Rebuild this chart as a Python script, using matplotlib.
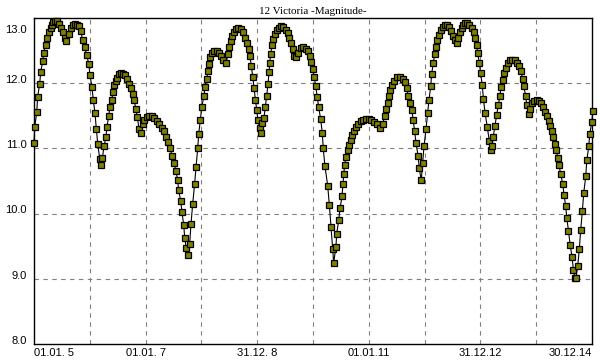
"""
12 Victoria magnitude curve, 2005-2014.
"""

import matplotlib
matplotlib.use("Agg")
import matplotlib.pyplot as plt
import matplotlib.transforms as mtransforms
import numpy as np

# days since 01.01.2005 and magnitude
days = [0, 5, 18, 24, 37, 44, 57, 63, 77, 83, 96, 109, 116, 126, 139, 150, 162, 175, 188, 203,
        211, 227, 240, 253, 266, 279, 292, 305, 319, 332, 345, 358, 366, 379, 388, 399, 408, 417, 430, 438,
        447, 458, 471, 477, 489, 497, 508, 517, 525, 534, 545, 556, 567, 580, 593, 606, 621, 635, 646, 656,
        665, 676, 687, 698, 711, 721, 737, 752, 770, 785, 803, 820, 835, 848, 861, 875, 890, 903, 916, 929,
        940, 946, 960, 968, 979, 986, 996, 1009, 1018, 1027, 1038, 1051, 1060, 1071, 1077, 1088, 1097, 1112, 1118, 1130,
        1138, 1143, 1151, 1162, 1177, 1195, 1212, 1225, 1238, 1256, 1269, 1277, 1287, 1297, 1308, 1321, 1336, 1352, 1365, 1378,
        1391, 1404, 1413, 1421, 1431, 1439, 1448, 1457, 1465, 1476, 1483, 1493, 1504, 1513, 1522, 1531, 1537, 1542, 1548, 1557,
        1565, 1576, 1588, 1601, 1616, 1631, 1646, 1659, 1670, 1681, 1692, 1703, 1714, 1729, 1744, 1761, 1779, 1794, 1805, 1814,
        1823, 1833, 1843, 1853, 1862, 1875, 1886, 1892, 1903, 1921, 1932, 1943, 1954, 1960, 1975, 1980, 1993, 2002, 2015, 2021,
        2026, 2032, 2041, 2052, 2060, 2072, 2082, 2093, 2106, 2121, 2137, 2154, 2172, 2189, 2204, 2224, 2242, 2263, 2281, 2294,
        2302, 2314, 2322, 2331, 2342, 2355, 2372, 2394, 2412, 2427, 2438, 2448, 2459, 2471, 2481, 2490, 2499, 2512, 2520, 2533,
        2542, 2551, 2564, 2575, 2584, 2595, 2601, 2612, 2621, 2630, 2638, 2651, 2660, 2673, 2686, 2703, 2717, 2728, 2743, 2756,
        2765, 2775, 2786, 2798, 2808, 2821, 2834, 2847, 2863, 2878, 2885, 2896, 2902, 2913, 2922, 2932, 2940, 2950, 2965, 2978,
        2987, 2996, 3004, 3015, 3026, 3037, 3048, 3055, 3066, 3074, 3087, 3100, 3114, 3129, 3144, 3157, 3170, 3183, 3197, 3203,
        3216, 3223, 3236, 3244, 3255, 3270, 3288, 3303, 3316, 3331, 3344, 3357, 3369, 3377, 3386, 3393, 3406, 3414, 3426, 3434,
        3445, 3458, 3467, 3478, 3485, 3496, 3507, 3520, 3528, 3539, 3545, 3556, 3567, 3576, 3587, 3596, 3609, 3616, 3629, 3635,
        3649, 3656]

mag = [11.09, 11.33, 11.56, 11.79, 11.99, 12.17, 12.34, 12.47, 12.59, 12.70, 12.78, 12.85, 12.90, 12.94, 12.96, 12.95, 12.91, 12.85, 12.78, 12.69,
       12.65, 12.75, 12.84, 12.89, 12.91, 12.90, 12.88, 12.80, 12.66, 12.55, 12.43, 12.30, 12.13, 11.94, 11.74, 11.54, 11.29, 11.07, 10.84, 10.74,
       10.85, 11.03, 11.18, 11.33, 11.50, 11.64, 11.75, 11.86, 11.97, 12.04, 12.08, 12.14, 12.15, 12.14, 12.12, 12.07, 11.99, 11.92, 11.83, 11.74,
       11.61, 11.48, 11.30, 11.23, 11.38, 11.44, 11.48, 11.50, 11.49, 11.46, 11.42, 11.37, 11.32, 11.26, 11.18, 11.10, 11.00, 10.89, 10.77, 10.65,
       10.51, 10.36, 10.19, 10.02, 9.83, 9.63, 9.47, 9.36, 9.53, 9.84, 10.15, 10.46, 10.72, 11.00, 11.22, 11.43, 11.64, 11.80, 11.94, 12.07,
       12.18, 12.30, 12.40, 12.46, 12.50, 12.50, 12.47, 12.42, 12.36, 12.31, 12.45, 12.55, 12.64, 12.73, 12.79, 12.83, 12.84, 12.83, 12.78, 12.70,
       12.62, 12.52, 12.41, 12.27, 12.10, 11.93, 11.75, 11.59, 11.43, 11.31, 11.24, 11.39, 11.46, 11.63, 11.81, 11.99, 12.17, 12.31, 12.45, 12.58,
       12.68, 12.75, 12.81, 12.85, 12.87, 12.86, 12.82, 12.77, 12.70, 12.62, 12.52, 12.42, 12.40, 12.47, 12.54, 12.55, 12.53, 12.50, 12.42, 12.32,
       12.22, 12.10, 11.95, 11.79, 11.63, 11.45, 11.23, 11.00, 10.73, 10.43, 10.13, 9.80, 9.45, 9.24, 9.49, 9.69, 9.90, 10.08, 10.27, 10.45,
       10.60, 10.75, 10.87, 10.97, 11.05, 11.13, 11.21, 11.27, 11.33, 11.38, 11.42, 11.43, 11.45, 11.45, 11.43, 11.41, 11.37, 11.32, 11.38, 11.50,
       11.60, 11.70, 11.80, 11.89, 11.97, 12.04, 12.10, 12.10, 12.07, 12.02, 11.92, 11.81, 11.70, 11.59, 11.43, 11.26, 11.08, 10.89, 10.70, 10.51,
       10.77, 11.03, 11.29, 11.54, 11.75, 11.95, 12.14, 12.31, 12.45, 12.56, 12.66, 12.74, 12.81, 12.86, 12.89, 12.89, 12.86, 12.80, 12.73, 12.66,
       12.62, 12.70, 12.78, 12.85, 12.90, 12.93, 12.93, 12.90, 12.85, 12.78, 12.69, 12.59, 12.46, 12.31, 12.15, 11.97, 11.76, 11.55, 11.33, 11.12,
       10.97, 11.03, 11.18, 11.35, 11.51, 11.66, 11.81, 11.94, 12.05, 12.15, 12.24, 12.31, 12.35, 12.36, 12.35, 12.31, 12.26, 12.19, 12.07, 11.95,
       11.81, 11.67, 11.53, 11.61, 11.69, 11.73, 11.74, 11.72, 11.69, 11.63, 11.56, 11.50, 11.42, 11.35, 11.27, 11.18, 11.07, 10.98, 10.86, 10.74,
       10.61, 10.46, 10.29, 10.12, 9.93, 9.74, 9.52, 9.33, 9.14, 9.01, 9.01, 9.19, 9.45, 9.75, 10.04, 10.32, 10.57, 10.82, 11.03, 11.22,
       11.41, 11.58]

tick_days = [0, 730, 1460, 2190, 2920, 3650]
tick_labels = ["01.01. 5", "01.01. 7", "31.12. 8", "01.01.11", "31.12.12", "30.12.14"]
y_ticks = [8.0, 9.0, 10.0, 11.0, 12.0, 13.0]

fig = plt.figure(figsize=(6, 3.6), dpi=100)
ax = fig.add_axes([34 / 600, 16 / 360, 558 / 600, 326 / 360])

ax.plot(days, mag, color="black", linewidth=0.8, marker="s", markersize=5,
        markerfacecolor="#808000", markeredgecolor="black", markeredgewidth=0.9,
        clip_on=False, zorder=3)

ax.set_xlim(0, 3650)
ax.set_ylim(8.0, 13.0)

# dashed grid: every 365 days and every magnitude
for d in range(365, 3650, 365):
    ax.axvline(d, color="#808080", linestyle=(0, (4, 4)), linewidth=0.8, zorder=1)
for y in y_ticks[1:-1]:
    ax.axhline(y, color="#808080", linestyle=(0, (4, 4)), linewidth=0.8, zorder=1)

ax.set_xticks(tick_days)
ax.set_xticklabels(tick_labels, fontfamily="Liberation Sans", fontsize=8)
ax.set_yticks(y_ticks)
ax.set_yticklabels([f"{v:.1f}" for v in y_ticks], fontfamily="Liberation Sans", fontsize=8)
ax.tick_params(length=0, pad=5)
ax.tick_params(axis="x", pad=3)

xl = ax.get_xticklabels()
xl[0].set_horizontalalignment("left")
xl[-1].set_horizontalalignment("right")

# y labels sit a few pixels above the lines, the top one is pushed inside
for lab, v in zip(ax.get_yticklabels(), y_ticks):
    dy = -8 / 72 if v == 13.0 else 3 / 72
    lab.set_transform(lab.get_transform() + mtransforms.ScaledTranslation(0, dy, fig.dpi_scale_trans))

for s in ax.spines.values():
    s.set_linewidth(1.0)
    s.set_color("black")

ax.set_title("12 Victoria -Magnitude-", fontfamily="Liberation Serif", fontsize=8, pad=3)

plt.savefig("out.png", dpi=100)
plt.close()
